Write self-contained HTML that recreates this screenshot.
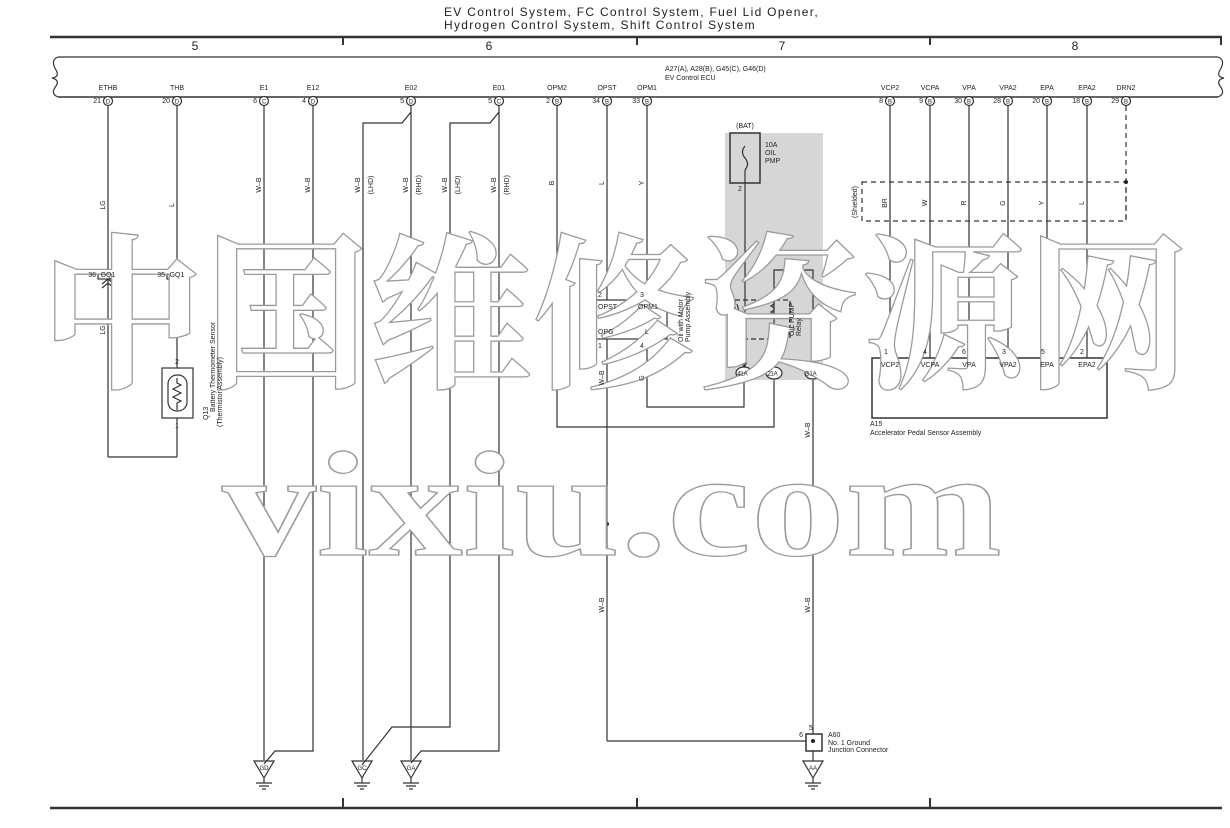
<!DOCTYPE html>
<html><head><meta charset="utf-8"><style>
html,body{margin:0;padding:0;background:#fff;}
svg{display:block;}
text{font-family:"Liberation Sans",sans-serif;fill:#222;}
.s{font-size:7px;}
.wm{font-family:"Liberation Serif","Noto Serif CJK SC",serif;font-weight:bold;fill:#fff;stroke:#9a9a9a;stroke-width:1.3;}
</style></head><body>
<svg width="1230" height="828" viewBox="0 0 1230 828" xmlns="http://www.w3.org/2000/svg">
<g stroke="#333" fill="none" stroke-width="1.2">
<line x1="50" y1="37" x2="1222" y2="37" stroke-width="2.5"/>
<line x1="343" y1="37" x2="343" y2="45" stroke-width="2"/><line x1="637" y1="37" x2="637" y2="45" stroke-width="2"/><line x1="930" y1="37" x2="930" y2="45" stroke-width="2"/><line x1="1221" y1="37" x2="1221" y2="45" stroke-width="2"/>
<line x1="50" y1="808" x2="1222" y2="808" stroke-width="2.5"/>
<line x1="343" y1="798" x2="343" y2="808" stroke-width="2"/><line x1="637" y1="798" x2="637" y2="808" stroke-width="2"/><line x1="930" y1="798" x2="930" y2="808" stroke-width="2"/>
<line x1="58" y1="57" x2="1218" y2="57"/>
<line x1="58" y1="97" x2="1218" y2="97" stroke-width="1.6"/>
<path d="M58 57 Q50 60 56 70 Q60 77 52 78 Q60 80 56 86 Q50 94 58 97"/>
<path d="M1218 57 Q1226 60 1220 70 Q1216 77 1224 78 Q1216 80 1220 86 Q1226 94 1218 97"/>
<g fill="#fff">
<circle cx="108" cy="101" r="4.5"/><circle cx="177" cy="101" r="4.5"/><circle cx="264" cy="101" r="4.5"/><circle cx="313" cy="101" r="4.5"/><circle cx="411" cy="101" r="4.5"/><circle cx="499" cy="101" r="4.5"/><circle cx="557" cy="101" r="4.5"/><circle cx="607" cy="101" r="4.5"/><circle cx="647" cy="101" r="4.5"/>
<circle cx="890" cy="101" r="4.5"/><circle cx="930" cy="101" r="4.5"/><circle cx="969" cy="101" r="4.5"/><circle cx="1008" cy="101" r="4.5"/><circle cx="1047" cy="101" r="4.5"/><circle cx="1087" cy="101" r="4.5"/><circle cx="1126" cy="101" r="4.5"/>
</g>
<line x1="108" y1="106" x2="108" y2="457"/><line x1="177" y1="106" x2="177" y2="368"/><line x1="177" y1="418" x2="177" y2="457"/><line x1="108" y1="457" x2="177" y2="457"/>
<rect x="98" y="270" width="20" height="9" fill="#fff"/><rect x="167" y="270" width="20" height="9" fill="#fff"/>
<path d="M102 284 L108 279 L114 284 M102 288 L108 283 L114 288"/><path d="M171 284 L177 279 L183 284 M171 288 L177 283 L183 288"/>
<rect x="162" y="368" width="31" height="50"/><rect x="168" y="375" width="19" height="36" rx="9"/>
<path d="M177 378 L177 383 L181 385 L173 389 L181 393 L173 397 L181 401 L177 403 L177 410"/>
<line x1="264" y1="106" x2="264" y2="760"/>
<path d="M313 106 L313 751 L275 751 L264 764"/>
<path d="M411 106 L411 112 L402 123 L363 123 L363 760"/>
<path d="M411 112 L411 760"/>
<path d="M499 106 L499 112 L490 123 L450 123 L450 727 L392 727 L362 765"/>
<path d="M499 112 L499 751 L421 751 L411 763"/>
<g>
<path d="M254 761 L274 761 L264 778 Z"/><path d="M264 778 L264 783 M256 783 L272 783 M259 786 L269 786 M262 789 L266 789"/>
<path d="M352 761 L372 761 L362 778 Z"/><path d="M362 778 L362 783 M354 783 L370 783 M357 786 L367 786 M360 789 L364 789"/>
<path d="M401 761 L421 761 L411 778 Z"/><path d="M411 778 L411 783 M403 783 L419 783 M406 786 L416 786 M409 789 L413 789"/>
<path d="M803 761 L823 761 L813 778 Z"/><path d="M813 778 L813 783 M805 783 L821 783 M808 786 L818 786 M811 789 L815 789"/>
</g>
<rect x="725" y="133" width="98" height="247" fill="#d6d6d6" stroke="none"/>
<path d="M557 106 L557 427 L774 427 L774 380"/>
<line x1="607" y1="106" x2="607" y2="741"/>
<path d="M607 741 L806 741"/>
<path d="M647 106 L647 407 L744 407 L744 380"/>
<rect x="588" y="300" width="79" height="39" fill="#fff"/>
<rect x="730" y="133" width="30" height="50" stroke-width="1.5"/>
<path d="M745 146 Q740 152 745 158 Q750 164 745 170"/>
<line x1="745" y1="170" x2="745" y2="368"/>
<rect x="735" y="300" width="55" height="39" stroke-dasharray="5,3" stroke-width="1.3"/>
<line x1="737" y1="304" x2="745" y2="331"/>
<path d="M774 368 L774 270 L813 270 L813 368"/>
<path d="M771 300 q6 3 0 6 q6 3 0 6 q6 3 0 6"/>
<path d="M813 380 L813 734"/>
<g fill="#fff"><ellipse cx="744" cy="373" rx="8" ry="6"/><ellipse cx="774" cy="373" rx="8" ry="6"/><ellipse cx="813" cy="373" rx="8" ry="6"/></g>
<g fill="#222" stroke="none"><path d="M740 362 L744 367 L748 362 L744 365Z"/><path d="M770 362 L774 367 L778 362 L774 365Z"/><path d="M809 362 L813 367 L817 362 L813 365Z"/></g>
<rect x="806" y="734" width="16" height="17" stroke-width="1.5"/>
<line x1="813" y1="751" x2="813" y2="761"/>
<line x1="890" y1="106" x2="890" y2="358"/><line x1="930" y1="106" x2="930" y2="358"/><line x1="969" y1="106" x2="969" y2="358"/><line x1="1008" y1="106" x2="1008" y2="358"/><line x1="1047" y1="106" x2="1047" y2="358"/><line x1="1087" y1="106" x2="1087" y2="358"/>
<line x1="1126" y1="106" x2="1126" y2="221" stroke-dasharray="5,4"/>
<rect x="862" y="182" width="264" height="39" stroke-dasharray="5,4"/>
<rect x="872" y="358" width="235" height="60" stroke-width="1.5"/>
</g>
<g fill="#222"><circle cx="1126" cy="182" r="2"/><circle cx="607" cy="524" r="2"/><circle cx="813" cy="524" r="2"/><circle cx="813" cy="741" r="2"/></g>

<text class="wm" x="40" y="375" font-size="168" textLength="1150" lengthAdjust="spacingAndGlyphs">中国维修资源网</text>
<text class="wm" x="222" y="555" font-size="150" textLength="780" lengthAdjust="spacingAndGlyphs">vixiu.com</text>

<text x="444" y="16" font-size="12" letter-spacing="1.3">EV Control System,  FC Control System,  Fuel Lid Opener,</text>
<text x="444" y="29" font-size="12" letter-spacing="1.3">Hydrogen Control System,  Shift Control System</text>
<g font-size="12" text-anchor="middle"><text x="195" y="50">5</text><text x="489" y="50">6</text><text x="782" y="50">7</text><text x="1075" y="50">8</text></g>
<text class="s" x="665" y="71">A27(A), A28(B), G45(C), G46(D)</text>
<text class="s" x="665" y="80">EV Control ECU</text>
<g class="s" text-anchor="middle">
<text x="108" y="90">ETHB</text><text x="177" y="90">THB</text><text x="264" y="90">E1</text><text x="313" y="90">E12</text><text x="411" y="90">E02</text><text x="499" y="90">E01</text><text x="557" y="90">OPM2</text><text x="607" y="90">OPST</text><text x="647" y="90">OPM1</text>
<text x="890" y="90">VCP2</text><text x="930" y="90">VCPA</text><text x="969" y="90">VPA</text><text x="1008" y="90">VPA2</text><text x="1047" y="90">EPA</text><text x="1087" y="90">EPA2</text><text x="1126" y="90">DRN2</text>
<text x="108" y="103.5" font-size="6">D</text><text x="177" y="103.5" font-size="6">D</text><text x="264" y="103.5" font-size="6">C</text><text x="313" y="103.5" font-size="6">D</text><text x="411" y="103.5" font-size="6">D</text><text x="499" y="103.5" font-size="6">C</text><text x="557" y="103.5" font-size="6">B</text><text x="607" y="103.5" font-size="6">B</text><text x="647" y="103.5" font-size="6">B</text>
<text x="890" y="103.5" font-size="6">B</text><text x="930" y="103.5" font-size="6">B</text><text x="969" y="103.5" font-size="6">B</text><text x="1008" y="103.5" font-size="6">B</text><text x="1047" y="103.5" font-size="6">B</text><text x="1087" y="103.5" font-size="6">B</text><text x="1126" y="103.5" font-size="6">B</text>
</g>
<g class="s" text-anchor="end">
<text x="101" y="103">21</text><text x="170" y="103">20</text><text x="257" y="103">6</text><text x="306" y="103">4</text><text x="404" y="103">5</text><text x="492" y="103">5</text><text x="550" y="103">2</text><text x="600" y="103">34</text><text x="640" y="103">33</text>
<text x="883" y="103">8</text><text x="923" y="103">9</text><text x="962" y="103">30</text><text x="1001" y="103">28</text><text x="1040" y="103">20</text><text x="1080" y="103">18</text><text x="1119" y="103">29</text>
<text x="96" y="277">36</text><text x="165" y="277">35</text>
<text x="741" y="376">4</text><text x="771" y="376">2</text><text x="809" y="376">3</text>
<text x="803" y="737">6</text>
</g>
<g class="s" text-anchor="middle"><text x="108" y="277">GQ1</text><text x="177" y="277">GQ1</text>
<text x="744" y="375.5" font-size="6">1A</text><text x="774" y="375.5" font-size="6">1A</text><text x="813" y="375.5" font-size="6">1A</text>
<text x="264" y="770" font-size="6">GD</text><text x="362" y="770" font-size="6">GC</text><text x="411" y="770" font-size="6">GA</text><text x="813" y="770" font-size="6">AA</text>
<text x="177" y="364">2</text><text x="177" y="428">1</text><text x="740" y="191">2</text><text x="811" y="730">5</text>
<text x="600" y="297">2</text><text x="642" y="297">3</text><text x="600" y="348">1</text><text x="642" y="348">4</text>
<text x="886" y="354">1</text><text x="925" y="354">4</text><text x="964" y="354">6</text><text x="1004" y="354">3</text><text x="1043" y="354">5</text><text x="1082" y="354">2</text>
<text x="890" y="367">VCP2</text><text x="930" y="367">VCPA</text><text x="969" y="367">VPA</text><text x="1008" y="367">VPA2</text><text x="1047" y="367">EPA</text><text x="1087" y="367">EPA2</text>
<text x="745" y="128">(BAT)</text>
</g>
<g class="s"><text x="598" y="309">OPST</text><text x="638" y="309">OPM1</text><text x="598" y="334">OPG</text><text x="645" y="334">L</text>
<text x="765" y="147">10A</text><text x="765" y="155">OIL</text><text x="765" y="163">PMP</text>
<text x="870" y="426">A15</text><text x="870" y="435">Accelerator Pedal Sensor Assembly</text>
<text x="828" y="737">A60</text><text x="828" y="745">No. 1 Ground</text><text x="828" y="752">Junction Connector</text>
</g>
<g class="s" text-anchor="middle">
<text transform="translate(105,205) rotate(-90)">LG</text><text transform="translate(174,205) rotate(-90)">L</text><text transform="translate(105,330) rotate(-90)">LG</text>
<text transform="translate(261,185) rotate(-90)">W–B</text><text transform="translate(310,185) rotate(-90)">W–B</text>
<text transform="translate(360,185) rotate(-90)">W–B</text><text transform="translate(373,185) rotate(-90)">(LHD)</text>
<text transform="translate(408,185) rotate(-90)">W–B</text><text transform="translate(421,185) rotate(-90)">(RHD)</text>
<text transform="translate(447,185) rotate(-90)">W–B</text><text transform="translate(460,185) rotate(-90)">(LHD)</text>
<text transform="translate(496,185) rotate(-90)">W–B</text><text transform="translate(509,185) rotate(-90)">(RHD)</text>
<text transform="translate(554,183) rotate(-90)">B</text><text transform="translate(604,183) rotate(-90)">L</text><text transform="translate(644,183) rotate(-90)">Y</text>
<text transform="translate(604,378) rotate(-90)">W–B</text><text transform="translate(644,378) rotate(-90)">G</text>
<text transform="translate(810,430) rotate(-90)">W–B</text><text transform="translate(604,605) rotate(-90)">W–B</text><text transform="translate(810,605) rotate(-90)">W–B</text>
<text transform="translate(887,203) rotate(-90)">BR</text><text transform="translate(927,203) rotate(-90)">W</text><text transform="translate(966,203) rotate(-90)">R</text><text transform="translate(1005,203) rotate(-90)">G</text><text transform="translate(1044,203) rotate(-90)">Y</text><text transform="translate(1084,203) rotate(-90)">L</text>
<text transform="translate(857,202) rotate(-90)">(Shielded)</text>
</g>
<g class="s"><text transform="translate(208,420) rotate(-90)">Q13</text><text transform="translate(208,412) rotate(-90)" dy="7">Battery Thermometer Sensor</text><text transform="translate(215,427) rotate(-90)" dy="7">(Thermistor Assembly)</text>
<text transform="translate(683,342) rotate(-90)">Oil with Motor</text><text transform="translate(690,342) rotate(-90)">Pump Assembly</text>
<text transform="translate(794,336) rotate(-90)">OIL PUMP</text><text transform="translate(801,336) rotate(-90)">Relay</text></g>
</svg>
</body></html>
